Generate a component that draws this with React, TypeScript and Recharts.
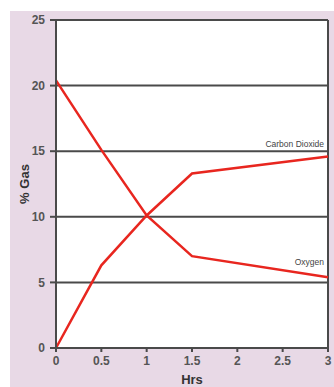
import React from 'react';
import {
  LineChart,
  Line,
  XAxis,
  YAxis,
  CartesianGrid,
  ReferenceLine
} from 'recharts';

const hours = [0, 0.5, 1, 1.5, 3];
const oxygen = [20.4, 15.1, 10.1, 7.0, 5.4];
const carbonDioxide = [0, 6.3, 10.1, 13.3, 14.6];

const xTicks = [0, 0.5, 1, 1.5, 2, 2.5, 3];
const yTicks = [0, 5, 10, 15, 20, 25];

const data = hours.map((h, i) => ({
  hrs: h,
  oxygen: oxygen[i],
  co2: carbonDioxide[i]
}));

const RED = '#e8261f';
const AXIS = '#4a4a4a';
const FONT = '"Liberation Sans", Arial, sans-serif';
const tickStyle = { fontSize: 12, fill: '#555', fontWeight: 'bold', fontFamily: FONT };

const endLabel = (text: string, dy: number) => (props: any) => {
  const { x, y, index } = props;
  if (index !== hours.length - 1) return null;
  return (
    <text
      x={x - 4}
      y={y + dy}
      textAnchor="end"
      fontSize={8.5}
      fill="#444"
      fontFamily={FONT}
    >
      {text}
    </text>
  );
};

const App: React.FC = () => {
  return (
    <div
      style={{
        position: 'absolute',
        left: 10,
        top: 11,
        width: 324,
        height: 376,
        background: '#e8d9e6',
        fontFamily: FONT
      }}
    >
      <LineChart
        width={324}
        height={376}
        data={data}
        margin={{ top: 9, right: 6, left: 0, bottom: 0 }}
      >
        <CartesianGrid
          vertical={false}
          stroke={AXIS}
          strokeWidth={2}
          fill="#ffffff"
          fillOpacity={1}
        />
        <XAxis
          dataKey="hrs"
          type="number"
          domain={[0, 3]}
          ticks={xTicks}
          interval={0}
          height={39}
          stroke={AXIS}
          strokeWidth={2}
          tickSize={4}
          tickMargin={4}
          tick={tickStyle}
          label={{
            value: 'Hrs',
            position: 'insideBottom',
            offset: 3,
            style: { fontSize: 13, fontWeight: 'bold', fill: '#333', fontFamily: FONT }
          }}
        />
        <YAxis
          type="number"
          domain={[0, 25]}
          ticks={yTicks}
          interval={0}
          width={46}
          stroke={AXIS}
          strokeWidth={2}
          tickSize={6}
          tickMargin={5}
          tick={tickStyle}
          label={{
            value: '% Gas',
            angle: -90,
            position: 'insideLeft',
            offset: 14,
            style: { fontSize: 13, fontWeight: 'bold', fill: '#333', fontFamily: FONT, textAnchor: 'middle' }
          }}
        />
        <ReferenceLine x={3} stroke={AXIS} strokeWidth={2} />
        <Line
          type="linear"
          dataKey="oxygen"
          stroke={RED}
          strokeWidth={2.5}
          dot={false}
          isAnimationActive={false}
          label={endLabel('Oxygen', -12)}
        />
        <Line
          type="linear"
          dataKey="co2"
          stroke={RED}
          strokeWidth={2.5}
          dot={false}
          isAnimationActive={false}
          label={endLabel('Carbon Dioxide', -9)}
        />
      </LineChart>
    </div>
  );
};

export default App;
